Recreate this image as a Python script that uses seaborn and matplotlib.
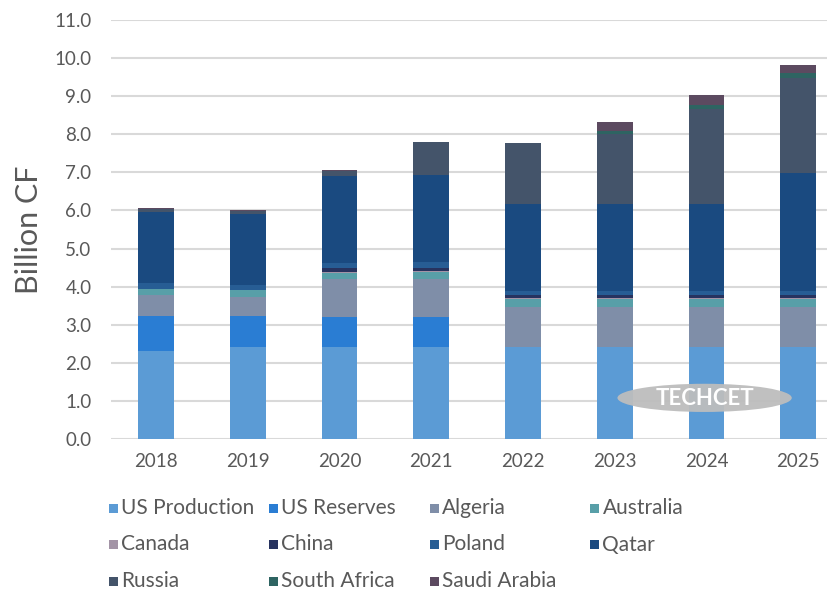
import matplotlib
matplotlib.use("Agg")
import matplotlib.pyplot as plt
from matplotlib.patches import Rectangle, Ellipse
import seaborn as sns
import numpy as np
import pandas as pd

# Stacked supply by source, billion CF
years = ["2018", "2019", "2020", "2021", "2022", "2023", "2024", "2025"]
sources = ["US Production", "US Reserves", "Algeria", "Australia", "Canada", "China",
           "Poland", "Qatar", "Russia", "South Africa", "Saudi Arabia"]

us_production = [2.30, 2.42, 2.42, 2.42, 2.42, 2.42, 2.42, 2.42]
us_reserves = [0.92, 0.80, 0.79, 0.79, 0.00, 0.00, 0.00, 0.00]
algeria = [0.55, 0.51, 0.99, 0.99, 1.05, 1.05, 1.05, 1.05]
australia = [0.18, 0.17, 0.17, 0.18, 0.20, 0.20, 0.20, 0.20]
canada = [0.00, 0.00, 0.02, 0.02, 0.03, 0.03, 0.03, 0.03]
china = [0.00, 0.00, 0.10, 0.10, 0.08, 0.08, 0.08, 0.08]
poland = [0.14, 0.13, 0.13, 0.14, 0.11, 0.11, 0.11, 0.11]
qatar = [1.87, 1.88, 2.28, 2.29, 2.28, 2.28, 2.29, 3.10]
russia = [0.08, 0.08, 0.13, 0.86, 1.59, 1.85, 2.48, 2.50]
south_africa = [0.00, 0.00, 0.00, 0.00, 0.02, 0.07, 0.10, 0.11]
saudi_arabia = [0.02, 0.02, 0.02, 0.02, 0.00, 0.22, 0.28, 0.22]

colors = ["#5b9bd5", "#2a7dd3", "#7f8ea8", "#589fa8", "#a394a6", "#27335f",
          "#275d94", "#1a4a80", "#44546a", "#2e6462", "#5c4a60"]

series = [us_production, us_reserves, algeria, australia, canada, china,
          poland, qatar, russia, south_africa, saudi_arabia]
df = pd.DataFrame(dict(zip(sources, series)), index=years)
cum = df.cumsum(axis=1)

sns.set_style("white")
plt.rcParams["font.family"] = ["Lato", "DejaVu Sans"]
text_color = "#595959"

fig = plt.figure(figsize=(8.28, 5.93), dpi=100)
ax = fig.add_axes([111 / 828, 154 / 593, 717 / 828, 419 / 593])

# draw cumulative totals from the top layer down so each segment shows
for name, color in reversed(list(zip(sources, colors))):
    sns.barplot(x=years, y=cum[name].values, color=color, width=0.39,
                saturation=1, errorbar=None, linewidth=0, ax=ax, zorder=3)

ax.set_xlim(-0.49, 7.325)
ax.set_ylim(0, 11)
ax.set_yticks(np.arange(0, 11.5, 1.0))
ax.set_yticklabels([f"{v:.1f}" for v in np.arange(0, 11.5, 1.0)])
ax.yaxis.grid(True, color="#d9d9d9", linewidth=1.5, zorder=0)
ax.set_axisbelow(True)
for s in ax.spines.values():
    s.set_visible(False)
ax.tick_params(axis="both", length=0, labelsize=13.5, labelcolor=text_color)
ax.tick_params(axis="y", pad=14)
ax.tick_params(axis="x", pad=10)
ax.set_xlabel("")
ax.set_ylabel("Billion CF", fontsize=22, color=text_color, labelpad=8)

# watermark
ax.add_patch(Ellipse((5.98, 1.08), 1.9, 0.74, fc="#bdbdbd", ec="none",
                     alpha=0.95, zorder=5))
ax.text(5.98, 1.07, "TECHCET", ha="center", va="center", fontsize=16,
        fontweight="bold", color="white", zorder=6)

# legend laid out on a fixed grid like the original
for i, (name, color) in enumerate(zip(sources, colors)):
    col, row = i % 4, i // 4
    x_px = 109 + 160.5 * col
    y_px = 508 + 36.5 * row
    fig.add_artist(Rectangle((x_px / 828, 1 - (y_px + 4.5) / 593), 9 / 828, 9 / 593,
                             transform=fig.transFigure, color=color, lw=0))
    fig.text((x_px + 12) / 828, 1 - y_px / 593, name, fontsize=15,
             color=text_color, va="center", ha="left")

fig.savefig("out.png", dpi=100)
